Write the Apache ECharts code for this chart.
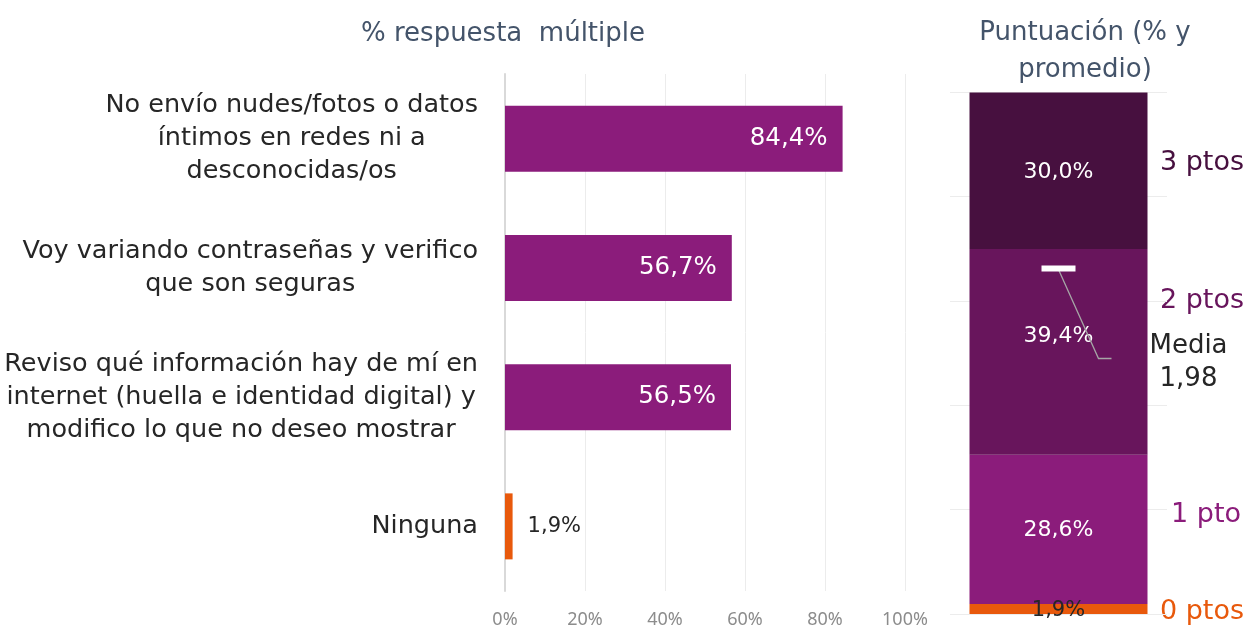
<!DOCTYPE html>
<html>
<head>
<meta charset="utf-8">
<script src="https://cdn.jsdelivr.net/npm/echarts@6/dist/echarts.min.js"></script>
<style>
  html, body { margin: 0; padding: 0; background: #fff; }
  #chart { width: 1247px; height: 630px; }
</style>
</head>
<body>
<div id="chart"></div>
<script>
// datos - respuesta múltiple
var categorias = [
    'No envío nudes/fotos o datos\níntimos en redes ni a\ndesconocidas/os',
    'Voy variando contraseñas y verifico\nque son seguras',
    'Reviso qué información hay de mí en\ninternet (huella e identidad digital) y\nmodifico lo que no deseo mostrar',
    'Ninguna'
];
var valores = [84.4, 56.7, 56.5, 1.9];

// datos - puntuación
var puntos = ['0 ptos', '1 pto', '2 ptos', '3 ptos'];
var puntosPct = [1.9, 28.6, 39.4, 30.0];
var media = 1.98;

var FONT = 'DejaVu Sans';
var purpura = '#8b1c7b';
var naranja = '#e8590c';
var coloresPuntos = [naranja, '#8b1c7b', '#68155c', '#47103f'];
var oscuro = '#262626';
var gris = '#44546a';

function pct(v) {
    return v.toFixed(1).replace('.', ',') + '%';
}

var myChart = echarts.init(document.getElementById('chart'));

// barras de la izquierda
var datosIzq = [];
for (var i = 0; i < valores.length; i++) {
    var esNinguna = (i === valores.length - 1);
    datosIzq.push({
        value: valores[i],
        itemStyle: { color: esNinguna ? naranja : purpura },
        label: esNinguna ? { position: 'right', color: oscuro, distance: 15, fontSize: 21 } : {}
    });
}

// series apiladas de la derecha
var seriesDer = [];
for (var j = 0; j < puntos.length; j++) {
    seriesDer.push({
        name: puntos[j],
        type: 'bar',
        stack: 'puntos',
        xAxisIndex: 1,
        yAxisIndex: 1,
        barWidth: 178,
        itemStyle: { color: coloresPuntos[j] },
        label: {
            show: true,
            position: 'inside',
            color: j === 0 ? oscuro : '#fff',
            fontFamily: FONT,
            fontSize: j === 0 ? 21 : 22,
            offset: j === 0 ? [0, 2] : (j === 2 ? [0, -16] : [0, 1]),
            formatter: function(p) { return pct(p.value); }
        },
        data: [puntosPct[j]]
    });
}

var option = {
    animation: false,
    textStyle: { fontFamily: FONT },
    title: [
        {
            text: '% respuesta  múltiple',
            left: 498,
            top: 16,
            textAlign: 'center',
            textStyle: { fontFamily: FONT, fontWeight: 'normal', fontSize: 26, color: gris }
        },
        {
            text: 'Puntuación (% y\npromedio)',
            left: 1080,
            top: 10,
            textAlign: 'center',
            textStyle: { fontFamily: FONT, fontWeight: 'normal', fontSize: 26, lineHeight: 37, color: gris }
        }
    ],
    grid: [
        { left: 505, width: 400, top: 74, height: 517 },
        { left: 950, width: 217, top: 92, height: 522 }
    ],
    xAxis: [
        {
            type: 'value',
            gridIndex: 0,
            min: 0,
            max: 100,
            interval: 20,
            axisLine: { show: false },
            axisTick: { show: false },
            axisLabel: {
                margin: 20,
                color: '#8c8c8c',
                fontFamily: 'Noto Sans',
                fontSize: 18,
                formatter: function(v) { return v + '%'; }
            },
            splitLine: { lineStyle: { color: '#ececec', width: 1 } }
        },
        {
            type: 'category',
            gridIndex: 1,
            data: ['puntuación'],
            show: false
        }
    ],
    yAxis: [
        {
            type: 'category',
            gridIndex: 0,
            inverse: true,
            data: categorias,
            axisLine: { show: true, lineStyle: { color: '#d9d9d9', width: 2 } },
            axisTick: { show: false },
            axisLabel: {
                margin: 27,
                color: oscuro,
                fontFamily: FONT,
                fontSize: 25.5,
                lineHeight: 33,
                formatter: function(v) {
                    return v.split('\n').map(function(l) { return '{c|' + l + '}'; }).join('\n');
                },
                rich: { c: { align: 'center', fontSize: 25.5, lineHeight: 33, color: oscuro, fontFamily: FONT } }
            }
        },
        {
            type: 'value',
            gridIndex: 1,
            min: 0,
            max: 100,
            interval: 20,
            axisLine: { show: false },
            axisTick: { show: false },
            axisLabel: { show: false },
            splitLine: { lineStyle: { color: '#ececec', width: 1 } }
        },
        {
            // escala del promedio (0 a 3 ptos)
            type: 'value',
            gridIndex: 1,
            min: 0,
            max: 3,
            show: false,
            splitLine: { show: false }
        }
    ],
    series: [
        {
            type: 'bar',
            xAxisIndex: 0,
            yAxisIndex: 0,
            barWidth: 66,
            label: {
                show: true,
                position: 'insideRight',
                distance: 15,
                color: '#fff',
                fontFamily: FONT,
                fontSize: 24.5,
                formatter: function(p) { return pct(p.value); }
            },
            data: datosIzq
        }
    ].concat(seriesDer).concat([
        {
            type: 'custom',
            xAxisIndex: 1,
            yAxisIndex: 2,
            z: 10,
            data: [[0, media]],
            renderItem: function(params, api) {
                var p = api.coord([api.value(0), api.value(1)]);
                return {
                    type: 'group',
                    children: [
                        {
                            type: 'polyline',
                            shape: { points: [[p[0], p[1]], [p[0] + 40, p[1] + 89], [p[0] + 53, p[1] + 89]] },
                            style: { stroke: '#a6a6a6', lineWidth: 1.3, fill: null }
                        },
                        {
                            type: 'rect',
                            shape: { x: p[0] - 17, y: p[1] - 4, width: 34, height: 6 },
                            style: { fill: '#fff' }
                        },
                        {
                            type: 'text',
                            x: p[0] + 130,
                            y: p[1] + 93,
                            style: {
                                text: 'Media\n' + api.value(1).toFixed(2).replace('.', ','),
                                fill: oscuro,
                                fontFamily: FONT,
                                fontSize: 26,
                                lineHeight: 33,
                                align: 'center',
                                verticalAlign: 'middle'
                            }
                        }
                    ]
                };
            }
        }
    ]),
    graphic: [
        { type: 'text', x: 1244, y: 163, style: { text: puntos[3], fill: coloresPuntos[3], font: '27px "DejaVu Sans"', align: 'right', verticalAlign: 'middle' } },
        { type: 'text', x: 1244, y: 301, style: { text: puntos[2], fill: coloresPuntos[2], font: '27px "DejaVu Sans"', align: 'right', verticalAlign: 'middle' } },
        { type: 'text', x: 1241, y: 515, style: { text: puntos[1], fill: coloresPuntos[1], font: '27px "DejaVu Sans"', align: 'right', verticalAlign: 'middle' } },
        { type: 'text', x: 1244, y: 612, style: { text: puntos[0], fill: coloresPuntos[0], font: '27px "DejaVu Sans"', align: 'right', verticalAlign: 'middle' } }
    ]
};

myChart.setOption(option);
</script>
</body>
</html>
